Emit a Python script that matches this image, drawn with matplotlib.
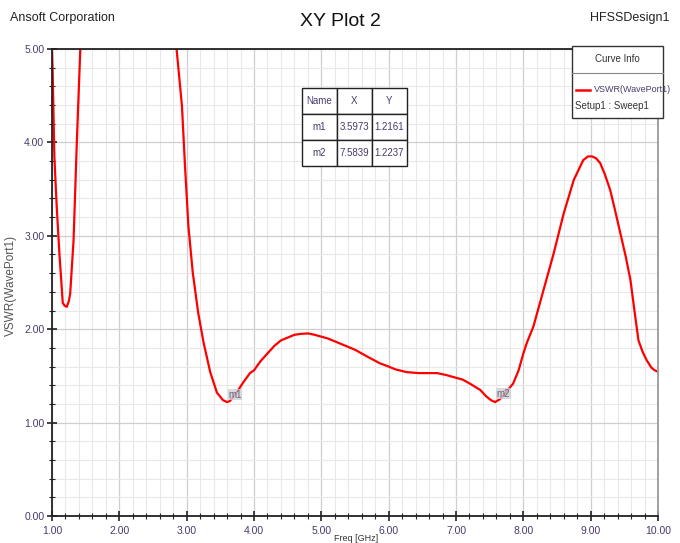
import matplotlib.pyplot as plt
from matplotlib.patches import Rectangle
from matplotlib.lines import Line2D
from matplotlib.ticker import MultipleLocator

plt.rcParams['font.family'] = ['Liberation Sans', 'DejaVu Sans']

# VSWR(WavePort1)
freq_a = [1.00, 1.01, 1.035, 1.07, 1.11, 1.16, 1.19, 1.22, 1.25, 1.27, 1.32, 1.37, 1.42, 1.45]
vswr_a = [5.00, 4.74, 3.85, 3.31, 2.81, 2.28, 2.25, 2.24, 2.30, 2.38, 2.95, 4.03, 4.99, 5.40]

freq_b = [2.82, 2.85, 2.93, 2.975, 3.025, 3.09, 3.17, 3.25, 3.35, 3.45, 3.54, 3.60, 3.64,
          3.74, 3.84, 3.94, 4.00, 4.10, 4.20, 4.30, 4.40, 4.50, 4.60, 4.70, 4.80, 4.90,
          5.00, 5.10, 5.20, 5.30, 5.40, 5.50, 5.60, 5.70, 5.87, 6.00, 6.10, 6.27, 6.45,
          6.60, 6.72, 6.85, 7.00, 7.10, 7.20, 7.36, 7.45, 7.52, 7.58, 7.65, 7.75, 7.85,
          7.93, 8.00, 8.05, 8.15, 8.30, 8.45, 8.60, 8.75, 8.89, 8.96, 9.02, 9.08, 9.14,
          9.21, 9.29, 9.36, 9.44, 9.52, 9.59, 9.65, 9.71, 9.77, 9.83, 9.90, 9.95, 10.00]
vswr_b = [5.40, 5.00, 4.39, 3.75, 3.11, 2.61, 2.18, 1.86, 1.54, 1.32, 1.24, 1.22, 1.23,
          1.32, 1.43, 1.53, 1.56, 1.66, 1.74, 1.82, 1.88, 1.91, 1.94, 1.95, 1.955, 1.94,
          1.92, 1.90, 1.87, 1.84, 1.81, 1.78, 1.74, 1.70, 1.635, 1.60, 1.57, 1.54, 1.53,
          1.53, 1.53, 1.51, 1.48, 1.46, 1.42, 1.35, 1.28, 1.24, 1.22, 1.25, 1.33, 1.42,
          1.56, 1.74, 1.85, 2.03, 2.42, 2.81, 3.24, 3.60, 3.81, 3.85, 3.85, 3.83, 3.78,
          3.66, 3.49, 3.28, 3.03, 2.78, 2.53, 2.20, 1.88, 1.76, 1.67, 1.59, 1.56, 1.545]

markers = ['m1', 'm2']
marker_x = [3.5973, 7.5839]
marker_y = [1.2161, 1.2237]

txt = '#4a3a6a'

fig = plt.figure(figsize=(6.8, 5.43), dpi=100)
ax = fig.add_axes([52 / 680, 1 - 516 / 543, 606 / 680, 467 / 543])

ax.plot(freq_a, vswr_a, color='#ff0000', lw=1.6)
ax.plot(freq_b, vswr_b, color='#ff0000', lw=1.6)

for name, mx, my in zip(markers, marker_x, marker_y):
    ax.text(mx + 0.02, my + 0.03, name, fontsize=7, color='#666677', ha='left', va='bottom',
            bbox=dict(boxstyle='square,pad=0.05', fc='#d0d0da', ec='none', alpha=0.8))

ax.set_xlim(1, 10)
ax.set_ylim(0, 5)
ax.xaxis.set_major_locator(MultipleLocator(1))
ax.xaxis.set_minor_locator(MultipleLocator(0.2))
ax.yaxis.set_major_locator(MultipleLocator(1))
ax.yaxis.set_minor_locator(MultipleLocator(0.2))
ax.xaxis.set_major_formatter(lambda v, p: f'{v:.2f}')
ax.yaxis.set_major_formatter(lambda v, p: f'{v:.2f}')
ax.grid(which='major', color='#cfcfcf', lw=0.9)
ax.grid(which='minor', color='#e8e8e8', lw=0.8)
ax.set_axisbelow(True)
ax.tick_params(which='both', direction='inout', labelsize=7.5, labelcolor=txt, colors='#222222')
ax.tick_params(which='major', length=7, width=1.2)
ax.tick_params(which='minor', length=4, width=0.8)
ax.tick_params(axis='y', which='major', pad=2)
for s in ['left', 'bottom', 'top']:
    ax.spines[s].set_linewidth(1.3)
    ax.spines[s].set_color('#222222')
ax.spines['right'].set_color('#999999')
ax.spines['right'].set_linewidth(1.3)

fig.text(11 / 680, 1 - 285 / 543, 'VSWR(WavePort1)', fontsize=8.5, color='#555555',
         rotation=90, ha='center', va='center')
fig.text(356 / 680, 0.009, 'Freq [GHz]', fontsize=6.5, color='#333333', ha='center', va='center')

fig.text(0.5, 0.96, 'XY Plot 2', fontsize=14, ha='center', va='center', color='#111111')
fig.text(0.015, 0.967, 'Ansoft Corporation', fontsize=9, ha='left', va='center', color='#222222')
fig.text(0.985, 0.967, 'HFSSDesign1', fontsize=9, ha='right', va='center', color='#222222')

# marker table
cells = [[n, f'{x:.4f}', f'{y:.4f}'] for n, x, y in zip(markers, marker_x, marker_y)]
tb = ax.table(cellText=cells, colLabels=['Name', 'X', 'Y'], cellLoc='center',
              bbox=[0.4125, 0.7495, 0.1733, 0.167])
tb.set_zorder(6)
tb.auto_set_font_size(False)
tb.set_fontsize(7)
for (r, c), cell in tb.get_celld().items():
    cell.set_edgecolor('#222222')
    cell.set_linewidth(1.0)
    cell.set_facecolor('white')
    cell.set_alpha(1.0)
    cell.get_text().set_color(txt)

# curve info box
fig.add_artist(Rectangle((572 / 680, 1 - 118 / 543), 91 / 680, 72 / 543,
                         transform=fig.transFigure, fc='white', ec='#333333', lw=1.0, zorder=5))
fig.add_artist(Line2D([572 / 680, 663 / 680], [1 - 73 / 543] * 2, transform=fig.transFigure,
                      color='#888888', lw=0.8, zorder=6))
fig.text(617 / 680, 1 - 59 / 543, 'Curve Info', fontsize=7, ha='center', va='center', color='#333333', zorder=6)
fig.add_artist(Line2D([576 / 680, 590 / 680], [1 - 90 / 543] * 2, transform=fig.transFigure,
                      color='#ff0000', lw=1.8, zorder=6))
fig.text(594 / 680, 1 - 90 / 543, 'VSWR(WavePort1)', fontsize=6.5, ha='left', va='center', color=txt, zorder=6)
fig.text(575 / 680, 1 - 106 / 543, 'Setup1 : Sweep1', fontsize=7, ha='left', va='center', color='#333333', zorder=6)

fig.savefig('out.png', dpi=100)
